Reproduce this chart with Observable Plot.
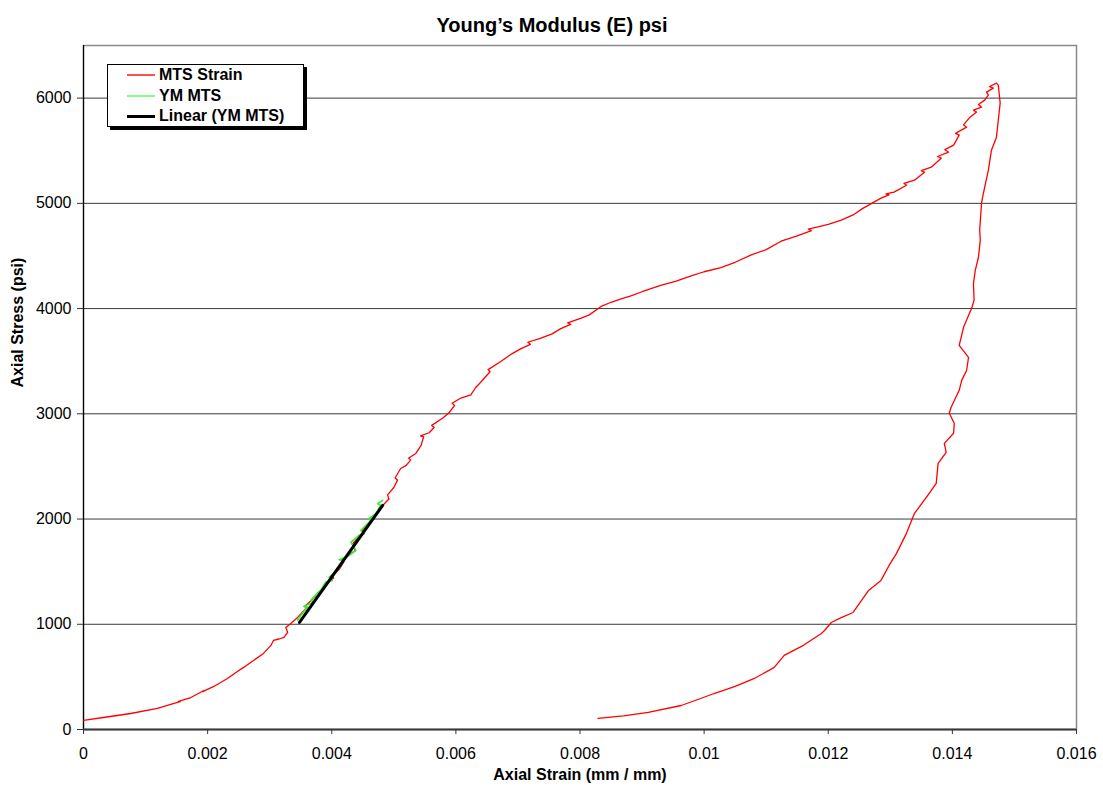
<!DOCTYPE html>
<html>
<head>
<meta charset="utf-8">
<script src="https://cdn.jsdelivr.net/npm/d3@7"></script>
<script src="https://cdn.jsdelivr.net/npm/@observablehq/plot@0.6"></script>
<style>
  html, body { margin: 0; padding: 0; background: #fff; }
  #wrap { position: relative; width: 1103px; height: 793px; font-family: "Liberation Sans", Arial, sans-serif; }
  #legend { position: absolute; left: 107px; top: 64px; width: 195px; height: 61px; background: #fff;
            border: 1px solid #000; box-shadow: 3px 3px 0 #000; }
  .row { position: absolute; left: 0; height: 20px; width: 195px; }
  .sw { position: absolute; left: 19px; width: 28px; top: 10px; }
  .lbl { position: absolute; left: 51px; top: 1px; font-weight: bold; font-size: 16px; color: #000; white-space: nowrap; }
</style>
</head>
<body>
<div id="wrap"></div>
<script>
// ---------- data ----------
const titleText = "Young\u2019s Modulus (E) psi";
const xLabel = "Axial Strain (mm / mm)";
const yLabel = "Axial Stress (psi)";
const seriesNames = ["MTS Strain", "YM MTS", "Linear (YM MTS)"];
const seriesColors = ["#ff0000", "#33ee33", "#000000"];

const xTicks = [0, 0.002, 0.004, 0.006, 0.008, 0.01, 0.012, 0.014, 0.016];
const xTickLabels = ["0", "0.002", "0.004", "0.006", "0.008", "0.01", "0.012", "0.014", "0.016"];
const yTicks = [0, 1000, 2000, 3000, 4000, 5000, 6000];
const yTickLabels = ["0", "1000", "2000", "3000", "4000", "5000", "6000"];

// MTS Strain: loading branch then unloading branch (strain, stress)
const mtsStrain = [0, 0.00032, 0.00076, 0.00119, 0.00150, 0.00156, 0.00153, 0.00173, 0.00194, 0.00192,
  0.00210, 0.00232, 0.00245, 0.00258, 0.00274, 0.00290, 0.00302, 0.00306, 0.00315, 0.00323, 0.00329,
  0.00326, 0.00334, 0.00345, 0.00352, 0.00360, 0.00356, 0.00368, 0.00378, 0.00385, 0.00395, 0.00403,
  0.00400, 0.00412, 0.00420, 0.00416, 0.00428, 0.00438, 0.00433, 0.00445, 0.00452, 0.00449, 0.00462,
  0.00470, 0.00476, 0.00484, 0.00492, 0.00490, 0.00500, 0.00506, 0.00502, 0.00511, 0.00520, 0.00527,
  0.00524, 0.00535, 0.00544, 0.00548, 0.00543, 0.00557, 0.00565, 0.00561, 0.00579, 0.00589, 0.00598,
  0.00594, 0.00608, 0.00624, 0.00632, 0.00640, 0.00655, 0.00652, 0.00673, 0.00690, 0.00705, 0.00720,
  0.00716, 0.00737, 0.00755, 0.00769, 0.00785, 0.00780, 0.00802, 0.00815, 0.00834, 0.00850, 0.00865,
  0.00882, 0.00900, 0.00930, 0.00955, 0.00979, 0.01000, 0.01027, 0.01050, 0.01076, 0.01100, 0.01124,
  0.01150, 0.01173, 0.01168, 0.01200, 0.01221, 0.01240, 0.01255, 0.01270, 0.01285, 0.01298, 0.01293,
  0.01306, 0.01326, 0.01322, 0.01339, 0.01355, 0.01350, 0.01366, 0.01382, 0.01376, 0.01394, 0.01388,
  0.01402, 0.01411, 0.01405, 0.01423, 0.01418, 0.01427, 0.01439, 0.01434, 0.01447, 0.01442, 0.01452,
  0.01458, 0.01455, 0.01466, 0.01460, 0.01471, 0.01474,
  // unloading
  0.01477, 0.01474, 0.01471, 0.01463, 0.01458, 0.01450, 0.01447, 0.01444, 0.01445, 0.01442, 0.01437,
  0.01434, 0.01435, 0.01431, 0.01418, 0.01411, 0.01426, 0.01423, 0.01415, 0.01411, 0.01398, 0.01395,
  0.01403, 0.01402, 0.01387, 0.01390, 0.01377, 0.01374, 0.01358, 0.01339, 0.01326, 0.01318, 0.01310,
  0.01298, 0.01285, 0.01265, 0.01240, 0.01220, 0.01205, 0.01194, 0.01189, 0.01160, 0.01129, 0.01113,
  0.01081, 0.01050, 0.01016, 0.00990, 0.00963, 0.00910, 0.00870, 0.00829];
const mtsStress = [86, 114, 152, 200, 255, 266, 268, 304, 371, 360,
  409, 485, 540, 590, 656, 723, 799, 846, 860, 875, 922,
  970, 1008, 1065, 1110, 1160, 1170, 1230, 1300, 1330, 1400, 1440,
  1460, 1520, 1600, 1610, 1660, 1700, 1760, 1840, 1860, 1890, 1980,
  2030, 2080, 2140, 2190, 2230, 2300, 2370, 2390, 2480, 2510, 2560,
  2580, 2620, 2700, 2780, 2790, 2820, 2870, 2890, 2960, 3010, 3080,
  3100, 3150, 3180, 3250, 3300, 3400, 3420, 3500, 3570, 3620, 3660,
  3680, 3720, 3760, 3810, 3850, 3865, 3910, 3940, 4020, 4060, 4090,
  4120, 4160, 4220, 4260, 4310, 4350, 4390, 4440, 4510, 4560, 4640,
  4690, 4740, 4755, 4800, 4840, 4890, 4950, 5000, 5049, 5080, 5090,
  5106, 5172, 5190, 5220, 5296, 5310, 5344, 5429, 5445, 5486, 5510,
  5553, 5648, 5665, 5724, 5745, 5810, 5867, 5885, 5914, 5940, 5981,
  6028, 6057, 6095, 6110, 6142, 6123,
  5952, 5790, 5629, 5505, 5315, 5096, 5001, 4745, 4650, 4488, 4365,
  4241, 4079, 4003, 3822, 3651, 3537, 3414, 3318, 3223, 3062, 3005,
  2910, 2815, 2719, 2634, 2529, 2339, 2206, 2054, 1864, 1769, 1674,
  1559, 1417, 1322, 1112, 1060, 1017, 941, 913, 800, 704, 590,
  485, 410, 342, 285, 228, 162, 130, 105];

// YM MTS (green) segment
const ymStrain = [0.00345, 0.00350, 0.00361, 0.00355, 0.00371, 0.00366, 0.00382, 0.00390, 0.00401, 0.00396,
  0.00412, 0.00417, 0.00412, 0.00428, 0.00439, 0.00431, 0.00444, 0.00452, 0.00447, 0.00463, 0.00460,
  0.00471, 0.00479, 0.00474, 0.00482];
const ymStress = [1040, 1084, 1163, 1170, 1210, 1227, 1322, 1401, 1417, 1448,
  1528, 1607, 1614, 1654, 1702, 1781, 1845, 1861, 1892, 1987, 2003,
  2051, 2130, 2146, 2177];

// Linear (YM MTS) trend line end points
const linStrain = [0.00348, 0.00482];
const linStress = [1017, 2130];

// ---------- build ----------
const mts = mtsStrain.map((x, i) => ({x, y: mtsStress[i]}));
const ym = ymStrain.map((x, i) => ({x, y: ymStress[i]}));
const lin = linStrain.map((x, i) => ({x, y: linStress[i]}));

const chart = Plot.plot({
  width: 1103,
  height: 793,
  marginLeft: 83,
  marginRight: 27,
  marginTop: 45,
  marginBottom: 64,
  style: {fontFamily: "'Liberation Sans', Arial, sans-serif", fontSize: "16px", color: "#000", background: "#fff"},
  x: {domain: [0, 0.016]},
  y: {domain: [0, 6500]},
  marks: [
    Plot.frame({stroke: "#8a8a8a", strokeWidth: 1.5}),
    Plot.ruleY(yTicks.filter(d => d > 0), {stroke: "#3a3a3a", strokeWidth: 1}),
    Plot.ruleX([0], {stroke: "#000", strokeWidth: 1.2}),
    Plot.ruleY([0], {stroke: "#3a3a3a", strokeWidth: 2}),
    Plot.axisX({ticks: xTicks, tickSize: 5, tickPadding: 13, label: null,
      tickFormat: d => xTickLabels[xTicks.indexOf(d)], stroke: "#333"}),
    Plot.axisY({ticks: yTicks, tickSize: 6, tickPadding: 6, label: null,
      tickFormat: d => yTickLabels[yTicks.indexOf(d)], stroke: "#333"}),
    Plot.line(mts, {x: "x", y: "y", stroke: seriesColors[0], strokeWidth: 1.3, curve: "linear"}),
    Plot.line(ym, {x: "x", y: "y", stroke: seriesColors[1], strokeWidth: 1.6}),
    Plot.line(lin, {x: "x", y: "y", stroke: seriesColors[2], strokeWidth: 3}),
    Plot.text([titleText], {frameAnchor: "top", dx: -28, dy: -28, fontSize: 20, fontWeight: "bold", fill: "#000"}),
    Plot.text([xLabel], {frameAnchor: "bottom", dy: 50, fontSize: 16, fontWeight: "bold", fill: "#000"}),
    Plot.text([yLabel], {frameAnchor: "left", dx: -66, rotate: -90, fontSize: 16, fontWeight: "bold", fill: "#000"})
  ]
});

const wrap = document.getElementById("wrap");
wrap.appendChild(chart);

// legend
const legend = document.createElement("div");
legend.id = "legend";
seriesNames.forEach((name, i) => {
  const row = document.createElement("div");
  row.className = "row";
  row.style.top = (i * 20.5) + "px";
  const sw = document.createElement("div");
  sw.className = "sw";
  const w = i === 2 ? 3 : 2;
  sw.style.height = w + "px";
  sw.style.marginTop = (-w / 2) + "px";
  sw.style.background = i === 1 ? "#80ff80" : (i === 0 ? "#ff5050" : seriesColors[i]);
  const lb = document.createElement("div");
  lb.className = "lbl";
  lb.textContent = name;
  row.appendChild(sw);
  row.appendChild(lb);
  legend.appendChild(row);
});
wrap.appendChild(legend);
</script>
</body>
</html>
